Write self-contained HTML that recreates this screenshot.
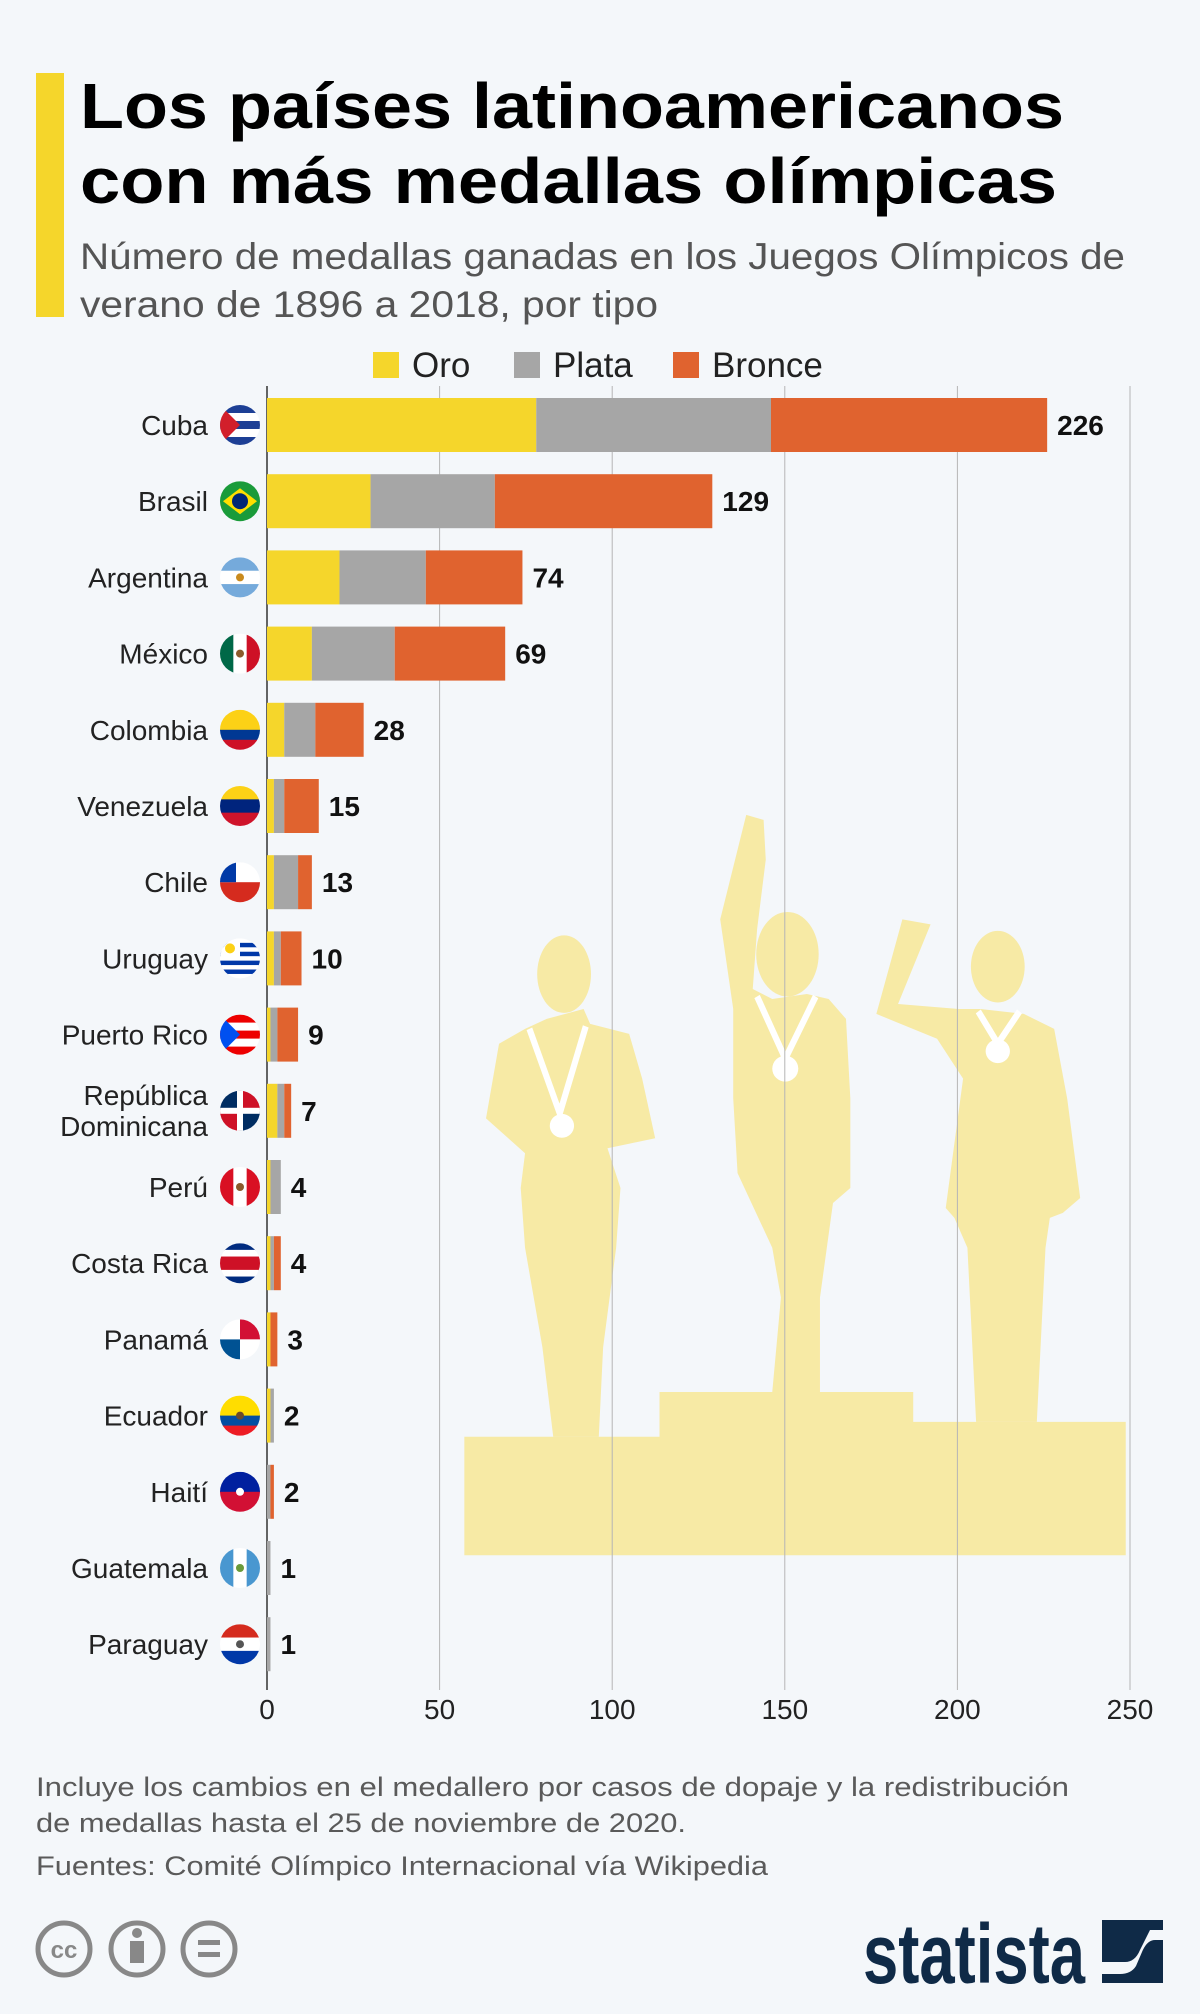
<!DOCTYPE html>
<html><head><meta charset="utf-8"><style>
html,body{margin:0;padding:0;background:#f4f7fa;}
svg{display:block;font-family:"Liberation Sans",sans-serif;}
</style></head><body>
<svg id="s" width="1200" height="2014" viewBox="0 0 1200 2014" xmlns="http://www.w3.org/2000/svg">
<rect width="1200" height="2014" fill="#f4f7fa"/>
<rect x="36" y="73" width="28" height="244" fill="#f5d62b"/>
<text x="80" y="128" font-size="64" font-weight="bold" fill="#000" textLength="984" lengthAdjust="spacingAndGlyphs">Los países latinoamericanos</text>
<text x="80" y="203" font-size="64" font-weight="bold" fill="#000" textLength="977" lengthAdjust="spacingAndGlyphs">con más medallas olímpicas</text>
<text x="80" y="269" font-size="37" fill="#555" textLength="1045" lengthAdjust="spacingAndGlyphs">Número de medallas ganadas en los Juegos Olímpicos de</text>
<text x="80" y="317" font-size="37" fill="#555" textLength="578" lengthAdjust="spacingAndGlyphs">verano de 1896 a 2018, por tipo</text>
<rect x="373" y="352" width="26" height="26" fill="#f5d62b"/>
<text x="412" y="377" font-size="35" fill="#222">Oro</text>
<rect x="514" y="352" width="26" height="26" fill="#a6a6a6"/>
<text x="553" y="377" font-size="35" fill="#222">Plata</text>
<rect x="673" y="352" width="26" height="26" fill="#e0632f"/>
<text x="712" y="377" font-size="35" fill="#222">Bronce</text>
<g transform="translate(460,800) scale(0.4337,0.4975)" fill="#f8e690" fill-opacity="0.8">
<path d="M10,1280 L460,1280 L460,1190 L1045,1190 L1045,1250 L1535,1250 L1535,1518 L10,1518 Z"/>
<path d="M200,440 L150,460 L90,490 L60,640 L150,710 L140,780 L150,900 L190,1100 L215,1280 L320,1280 L330,1100 L360,900 L370,780 L340,700 L450,680 L420,560 L390,470 L300,450 L285,420 Z"/>
<ellipse cx="240" cy="350" rx="62" ry="78"/>
<path d="M600,240 L660,30 L700,40 L705,120 L685,260 L675,380 L720,400 L800,390 L850,400 L890,440 L900,600 L900,780 L860,810 L830,1000 L830,1190 L720,1190 L740,1000 L720,900 L640,750 L630,600 L630,420 Z"/>
<ellipse cx="755" cy="310" rx="72" ry="85"/>
<path d="M960,430 L1020,240 L1085,250 L1010,410 L1150,420 L1200,420 L1300,430 L1370,460 L1400,600 L1430,800 L1390,830 L1360,840 L1350,900 L1330,1250 L1190,1250 L1170,900 L1140,840 L1120,820 L1160,560 L1100,480 Z"/>
<ellipse cx="1240" cy="335" rx="62" ry="72"/>
</g>
<g transform="translate(460,800) scale(0.4337,0.4975)">
<g fill="none" stroke="#fff" stroke-width="14">
<path d="M160,460 L230,630 L290,455"/><path d="M685,395 L750,520 L820,395"/><path d="M1195,425 L1240,490 L1290,425"/>
</g>
<g fill="#fff"><ellipse cx="235" cy="655" rx="28" ry="24"/><ellipse cx="750" cy="540" rx="30" ry="26"/><ellipse cx="1240" cy="505" rx="28" ry="24"/></g>
</g>
<g id="grid"></g>
<g id="bars"></g>
<text x="36" y="1796" font-size="27" fill="#5a5a5a" textLength="1033" lengthAdjust="spacingAndGlyphs">Incluye los cambios en el medallero por casos de dopaje y la redistribución</text>
<text x="36" y="1832" font-size="27" fill="#5a5a5a" textLength="650" lengthAdjust="spacingAndGlyphs">de medallas hasta el 25 de noviembre de 2020.</text>
<text x="36" y="1875" font-size="27" fill="#5a5a5a" textLength="732" lengthAdjust="spacingAndGlyphs">Fuentes: Comité Olímpico Internacional vía Wikipedia</text>
<g fill="none" stroke="#888" stroke-width="5">
<circle cx="64" cy="1949" r="26"/><circle cx="137" cy="1949" r="26"/><circle cx="209" cy="1949" r="26"/>
</g>
<text x="64" y="1958" font-size="24" font-weight="bold" fill="#888" text-anchor="middle">cc</text>
<circle cx="137" cy="1933" r="5" fill="#888"/><rect x="130" y="1941" width="14" height="22" fill="#888"/>
<rect x="198" y="1940" width="22" height="5" fill="#888"/><rect x="198" y="1952" width="22" height="5" fill="#888"/>
<text x="863" y="1983" font-size="84" font-weight="bold" fill="#0f2a47" textLength="222" lengthAdjust="spacingAndGlyphs">statista</text>
<rect x="1102" y="1920" width="61" height="63" fill="#0f2a47"/>
<path d="M1102,1962 L1125,1962 Q1135,1962 1140,1950 L1150,1930 L1163,1930 L1163,1940 L1155,1940 Q1147,1940 1142,1952 L1136,1966 Q1131,1974 1120,1974 L1102,1974 Z" fill="#f4f7fa"/>
</svg>
<script>
var NS="http://www.w3.org/2000/svg";
function el(t,a,p){var e=document.createElementNS(NS,t);for(var k in a)e.setAttribute(k,a[k]);(p||document.getElementById('bars')).appendChild(e);return e;}
var x0=267,k=3.452;
var g=document.getElementById('grid');
for(var v=0;v<=250;v+=50){var x=x0+v*k;el('line',{x1:x,x2:x,y1:386,y2:1690,stroke:v==0?'#333':'#b5b5b5','stroke-width':v==0?1.5:1},g);
var t=el('text',{x:x,y:1719,'font-size':28,fill:'#222','text-anchor':'middle'},g);t.textContent=v;}
var d=[["Cuba",78,68,80,226],["Brasil",30,36,63,129],["Argentina",21,25,28,74],["México",13,24,32,69],["Colombia",5,9,14,28],["Venezuela",2,3,10,15],["Chile",2,7,4,13],["Uruguay",2,2,6,10],["Puerto Rico",1,2,6,9],["República Dominicana",3,2,2,7],["Perú",1,3,0,4],["Costa Rica",1,1,2,4],["Panamá",1,0,2,3],["Ecuador",1,1,0,2],["Haití",0,1,1,2],["Guatemala",0,1,0,1],["Paraguay",0,1,0,1]];
var F={
"Cuba":{h:[["#1d3f95",1],["#fff",1],["#1d3f95",1],["#fff",1],["#1d3f95",1]],tri:"#d21f2b"},
"Brasil":{h:[["#1a9b3a",1]],br:1},
"Argentina":{h:[["#75aadb",1],["#fff",1],["#75aadb",1]],dot:"#c98a1d"},
"México":{v:[["#006847",1],["#fff",1],["#ce1126",1]],dot:"#8b5a2b"},
"Colombia":{h:[["#fcd116",2],["#003893",1],["#ce1126",1]]},
"Venezuela":{h:[["#fcd116",1],["#00247d",1],["#cf142b",1]]},
"Chile":{h:[["#fff",1],["#d52b1e",1]],sq:"#0039a6"},
"Uruguay":{h:[["#fff",1],["#0038a8",1],["#fff",1],["#0038a8",1],["#fff",1],["#0038a8",1],["#fff",1],["#0038a8",1],["#fff",1]],sun:1},
"Puerto Rico":{h:[["#ed0000",1],["#fff",1],["#ed0000",1],["#fff",1],["#ed0000",1]],tri:"#0050f0"},
"República Dominicana":{q:["#002d62","#ce1126","#ce1126","#002d62"],cross:1},
"Perú":{v:[["#d91023",1],["#fff",1],["#d91023",1]],dot:"#8b5a2b"},
"Costa Rica":{h:[["#002b7f",1],["#fff",1],["#ce1126",2],["#fff",1],["#002b7f",1]]},
"Panamá":{q:["#fff","#d21034","#005293","#fff"]},
"Ecuador":{h:[["#ffdd00",2],["#034ea2",1],["#ed1c24",1]],dot:"#6b4a2b"},
"Haití":{h:[["#00209f",1],["#d21034",1]],dot:"#fff"},
"Guatemala":{v:[["#4997d0",1],["#fff",1],["#4997d0",1]],dot:"#6a9a3a"},
"Paraguay":{h:[["#d52b1e",1],["#fff",1],["#0038a8",1]],dot:"#555"}};
var defs=el('defs',{},document.getElementById('s'));
d.forEach(function(r,i){
var cy=425+i*76.2,h=54,y=cy-h/2,x=x0;
[[r[1],"#f5d62b"],[r[2],"#a6a6a6"],[r[3],"#e0632f"]].forEach(function(s){if(s[0]>0){el('rect',{x:x,y:y,width:s[0]*k,height:h,fill:s[1]});x+=s[0]*k;}});
var vt=el('text',{x:x0+r[4]*k+10,y:cy+10,'font-size':28,'font-weight':'bold',fill:'#111'});vt.textContent=r[4];
if(r[0]=="República Dominicana"){var a=el('text',{x:208,y:cy-6,'font-size':28,fill:'#222','text-anchor':'end'});a.textContent="República";var b=el('text',{x:208,y:cy+25,'font-size':28,fill:'#222','text-anchor':'end'});b.textContent="Dominicana";}
else{var t=el('text',{x:208,y:cy+10,'font-size':28,fill:'#222','text-anchor':'end'});t.textContent=r[0];}
var fx=240,R=20,id="c"+i;
var cp=el('clipPath',{id:id},defs);el('circle',{cx:fx,cy:cy,r:R},cp);
var fg=el('g',{'clip-path':'url(#'+id+')'});
var f=F[r[0]];
if(f.h){var tot=0;f.h.forEach(function(s){tot+=s[1]});var yy=cy-R;f.h.forEach(function(s){var hh=2*R*s[1]/tot;el('rect',{x:fx-R,y:yy,width:2*R,height:hh+0.5,fill:s[0]},fg);yy+=hh;});}
if(f.v){var xx=fx-R;f.v.forEach(function(s){el('rect',{x:xx,y:cy-R,width:2*R/3+0.5,height:2*R,fill:s[0]},fg);xx+=2*R/3;});}
if(f.q){el('rect',{x:fx-R,y:cy-R,width:R,height:R,fill:f.q[0]},fg);el('rect',{x:fx,y:cy-R,width:R,height:R,fill:f.q[1]},fg);el('rect',{x:fx-R,y:cy,width:R,height:R,fill:f.q[2]},fg);el('rect',{x:fx,y:cy,width:R,height:R,fill:f.q[3]},fg);}
if(f.cross){el('rect',{x:fx-3,y:cy-R,width:6,height:2*R,fill:'#fff'},fg);el('rect',{x:fx-R,y:cy-3,width:2*R,height:6,fill:'#fff'},fg);}
if(f.tri)el('path',{d:'M'+(fx-R)+','+(cy-R)+' L'+(fx)+','+cy+' L'+(fx-R)+','+(cy+R)+'Z',fill:f.tri},fg);
if(f.sq)el('rect',{x:fx-R,y:cy-R,width:R*0.8,height:R,fill:f.sq},fg);
if(f.br){el('path',{d:'M'+(fx-R+3)+','+cy+' L'+fx+','+(cy-13)+' L'+(fx+R-3)+','+cy+' L'+fx+','+(cy+13)+'Z',fill:'#fedf00'},fg);el('circle',{cx:fx,cy:cy,r:8,fill:'#002776'},fg);}
if(f.sun){el('rect',{x:fx-R,y:cy-R,width:R,height:R*1.1,fill:'#fff'},fg);el('circle',{cx:fx-R/2,cy:cy-R/2,r:5,fill:'#fcd116'},fg);}
if(f.dot)el('circle',{cx:fx,cy:cy,r:4,fill:f.dot},fg);
});
</script>
</body></html>
